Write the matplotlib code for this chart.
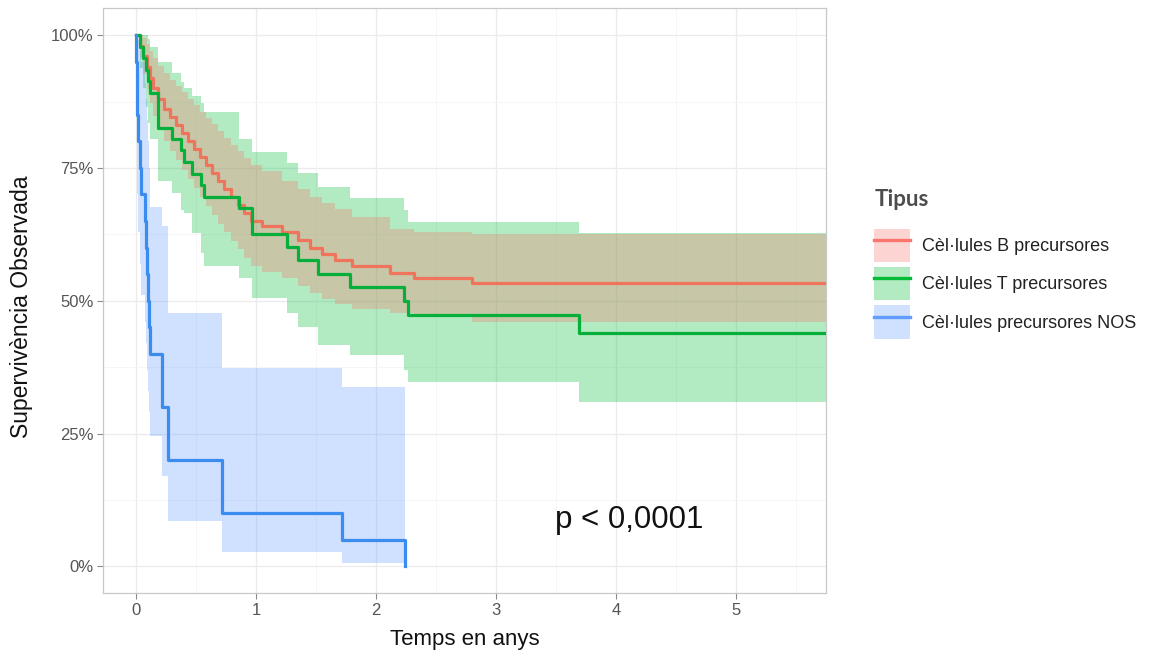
import matplotlib
matplotlib.use("Agg")
import matplotlib.pyplot as plt
from matplotlib.patches import Patch
from matplotlib.lines import Line2D
from matplotlib.legend_handler import HandlerTuple
from matplotlib.ticker import FixedLocator

plt.rcParams['font.family'] = ['Liberation Sans', 'DejaVu Sans']

# Cèl·lules B precursores
b_t = [0, 0.03, 0.06, 0.09, 0.12, 0.14, 0.18, 0.23, 0.28, 0.33, 0.38, 0.43, 0.48, 0.53, 0.58, 0.63,
       0.68, 0.73, 0.79, 0.85, 0.90, 0.96, 1.05, 1.22, 1.35, 1.45, 1.55, 1.66, 1.80, 2.12, 2.32, 2.80, 5.75]
b_s = [100, 98, 96, 94, 92, 90, 88, 86, 84.5, 83, 81.5, 80, 78.5, 77, 75.5, 74,
       72.5, 71, 69.5, 68, 66.5, 65, 64, 63, 61.5, 60, 58.8, 57.7, 56.5, 55.3, 54.3, 53.4, 53.4]
b_lo = [100, 95.6, 92.6, 89.9, 87.3, 84.8, 82.4, 80, 78.2, 76.4, 74.6, 72.9, 71.2, 69.5, 67.8, 66.1,
        64.5, 62.9, 61.3, 59.7, 58.1, 56.6, 55.5, 54.2, 52.8, 51.5, 50.3, 49.3, 48.5, 47.7, 47.0, 46.0, 46.0]
b_hi = [100, 100, 99.5, 98.3, 97, 95.6, 94.2, 92.8, 91.6, 90.4, 89.2, 88, 86.8, 85.6, 84.4, 83.2,
        82, 80.7, 79.4, 78.1, 76.8, 75.5, 74.4, 72.5, 71, 69.5, 68.4, 67.2, 65.8, 63.5, 63.0, 62.6, 62.6]

# Cèl·lules T precursores
t_t = [0, 0.03, 0.06, 0.08, 0.10, 0.12, 0.18, 0.30, 0.375, 0.40, 0.47, 0.54, 0.57, 0.86, 0.97,
       1.26, 1.35, 1.52, 1.78, 2.23, 2.27, 3.69, 5.75]
t_s = [100, 97.8, 95.7, 93.5, 91.3, 89.1, 82.6, 80.4, 78.3, 76.1, 73.9, 71.7, 69.6, 67.4, 62.6,
       60.2, 57.6, 55.0, 52.5, 50.0, 47.4, 44.0, 44.0]
t_lo = [100, 93.8, 90.0, 86.5, 83.5, 80.5, 72.5, 70.3, 67.0, 66.5, 62.8, 59.0, 56.5, 54.3, 50.6,
        47.7, 45.0, 41.7, 39.8, 37.0, 34.8, 31.0, 31.0]
t_hi = [100, 100, 100, 100, 99.3, 97.8, 95.0, 92.8, 91.2, 90.0, 88.6, 87.2, 85.6, 80.5, 78.0,
        76.0, 74.0, 71.4, 69.4, 67.0, 64.8, 62.8, 62.8]

# Cèl·lules precursores NOS
n_t = [0, 0.003, 0.006, 0.01, 0.02, 0.03, 0.04, 0.075, 0.08, 0.09, 0.10, 0.11, 0.12, 0.22, 0.27, 0.72, 1.72, 2.24]
n_s = [100, 95, 90, 85, 80, 75, 70, 65, 60, 55, 50, 45, 40, 30, 20, 10, 5, 0]
n_lo = [100, 86, 77, 70, 63, 57, 51, 46, 42, 37, 33, 29, 24.5, 17, 8.5, 2.8, 0.7, 0]
n_hi = [100, 100, 100, 100, 99, 97, 95, 91, 88, 84, 80, 75, 67.7, 64, 47.7, 37.4, 33.8, 0]

labels = ['Cèl·lules B precursores', 'Cèl·lules T precursores', 'Cèl·lules precursores NOS']
line_cols = ['#F0735C', '#05AF3A', '#3A8DEE']
fill_cols = ['#F8766D', '#00BA38', '#619CFF']

W, H = 1159, 657
fig = plt.figure(figsize=(W / 100, H / 100), dpi=100)
ax = fig.add_axes([103 / W, 1 - 593 / H, (826 - 103) / W, (593 - 8) / H])

series = [(b_t, b_s, b_lo, b_hi), (t_t, t_s, t_lo, t_hi), (n_t, n_s, n_lo, n_hi)]

# bands: green first so the B band sits on top of it (olive overlap)
for i in [1, 0, 2]:
    tt, ss, lo, hi = series[i]
    ax.fill_between(tt, lo, hi, step='post', color=fill_cols[i], alpha=0.3, lw=0, zorder=2)
for i in [0, 1, 2]:
    tt, ss, lo, hi = series[i]
    ax.step(tt, ss, where='post', color=line_cols[i], lw=2.3, zorder=3)

ax.text(3.49, 8.8, 'p < 0,0001', fontsize=22.5, ha='left', va='center', color='#111111')

ax.set_xlim(-0.275, 5.75)
ax.set_ylim(-5, 105.1)
ax.xaxis.set_major_locator(FixedLocator([0, 1, 2, 3, 4, 5]))
ax.xaxis.set_minor_locator(FixedLocator([0.5, 1.5, 2.5, 3.5, 4.5, 5.5]))
ax.yaxis.set_major_locator(FixedLocator([0, 25, 50, 75, 100]))
ax.yaxis.set_minor_locator(FixedLocator([12.5, 37.5, 62.5, 87.5]))
ax.set_yticklabels(['0%', '25%', '50%', '75%', '100%'])
ax.grid(which='major', color='#EBEBEB', lw=0.9, zorder=0)
ax.grid(which='minor', color='#F5F5F5', lw=0.6, zorder=0)
ax.set_axisbelow(True)
ax.tick_params(which='major', length=4, width=0.8, color='#8A8A8A', labelcolor='#555555',
               labelsize=12, pad=3)
ax.tick_params(which='minor', length=0)
for sp in ax.spines.values():
    sp.set_color('#C8C8C8')
    sp.set_linewidth(0.9)

ax.set_xlabel('Temps en anys', fontsize=16, color='#111111')
ax.xaxis.set_label_coords(0.5, -0.061)
ax.set_ylabel('Supervivència Observada', fontsize=16.5, color='#111111')
ax.yaxis.set_label_coords(-0.097, 0.49)

fig.text(875 / W, 1 - 200 / H, 'Tipus', family=['Lato', 'DejaVu Sans'], fontweight='bold',
         fontsize=16, color='#4D4D4D', ha='left', va='center')

handles = [(Patch(facecolor=fill_cols[i], alpha=0.3, lw=0),
            Line2D([], [], color=fill_cols[i], lw=2.4)) for i in range(3)]
leg = fig.legend(handles, labels, loc='upper left', bbox_to_anchor=(874 / W, 1 - 229 / H),
                 frameon=False, fontsize=13, handler_map={tuple: HandlerTuple(ndivide=1, pad=0)},
                 handlelength=2.0, handleheight=2.45, labelspacing=0.28, handletextpad=0.66,
                 borderpad=0, borderaxespad=0)
for txt in leg.get_texts():
    txt.set_color('#222222')

fig.savefig('out.png', dpi=100)
